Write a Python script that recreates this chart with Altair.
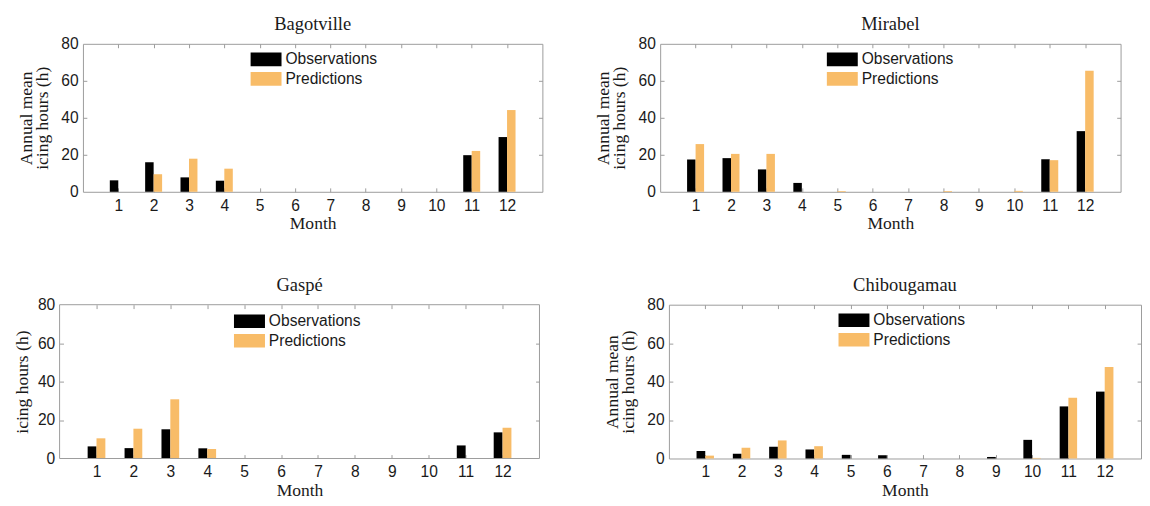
import altair as alt
import pandas as pd

months = list(range(1, 13))
series_names = ["Observations", "Predictions"]
series_colors = ["#000000", "#F8BC68"]
y_ticks = [0, 20, 40, 60, 80]
x_domain = [0, 13]
y_domain = [0, 80]

stations = ["Bagotville", "Mirabel", "Gaspé", "Chibougamau"]

obs_bagotville = [6.2, 16.0, 7.8, 6.0, 0, 0, 0, 0, 0, 0, 19.8, 29.6]
pred_bagotville = [0, 9.5, 17.9, 12.5, 0, 0, 0, 0, 0, 0, 22.1, 44.2]

obs_mirabel = [17.4, 18.2, 12.1, 4.8, 0, 0, 0, 0, 0, 0, 17.6, 32.8]
pred_mirabel = [25.8, 20.5, 20.5, 0, 0.4, 0, 0, 0.4, 0, 0.5, 17.1, 65.5]

obs_gaspe = [6.3, 5.4, 15.2, 5.3, 0, 0, 0, 0, 0, 0, 6.8, 13.6]
pred_gaspe = [10.5, 15.5, 30.8, 5.0, 0, 0, 0, 0, 0, 0, 0, 16.0]

obs_chibougamau = [3.9, 2.5, 6.1, 4.7, 1.9, 1.7, 0, 0, 0.8, 9.7, 27.1, 34.8]
pred_chibougamau = [1.5, 5.6, 9.4, 6.4, 0, 0, 0, 0, 0, 0.3, 31.6, 47.6]

y_title_full = ["Annual mean", "icing hours (h)"]
y_title_short = "icing hours (h)"

SANS = "Liberation Sans"
SERIF = "Liberation Serif"
BOX = "#9a9a9a"
TXT = "#1a1a1a"


def panel(name, obs, pred, ytitle, w, h, lx, ly, ytpad, shift=0):
    df = pd.DataFrame({
        "month": months * 2,
        "series": [series_names[0]] * 12 + [series_names[1]] * 12,
        "value": obs + pred,
    })
    base = alt.Chart(df).transform_calculate(
        x0="datum.series == 'Observations' ? datum.month - 0.24 : datum.month",
        x1="datum.series == 'Observations' ? datum.month : datum.month + 0.24",
    )
    if shift:
        xs = alt.Scale(domain=x_domain, nice=False, zero=False, range=[-shift, w])
    else:
        xs = alt.Scale(domain=x_domain, nice=False, zero=False)
    ys = alt.Scale(domain=y_domain, nice=False)

    bars = base.mark_bar().encode(
        x=alt.X("x0:Q", scale=xs,
                axis=alt.Axis(orient="bottom", values=months, title="Month",
                              ticks=False, domain=False, grid=False,
                              labelPadding=6, titlePadding=2)),
        x2="x1:Q",
        y=alt.Y("value:Q", scale=ys,
                axis=alt.Axis(orient="left", values=y_ticks, title=ytitle,
                              ticks=False, domain=False, grid=False, offset=shift,
                              labelPadding=5, titlePadding=ytpad)),
        y2=alt.datum(0),
        color=alt.Color("series:N",
                        scale=alt.Scale(domain=series_names, range=series_colors),
                        legend=alt.Legend(
                            title=None, orient="none", legendX=lx, legendY=ly,
                            symbolType="M-1,-0.4375L1,-0.4375L1,0.4375L-1,0.4375Z",
                            symbolSize=1024, symbolStrokeWidth=0, symbolOpacity=1,
                            labelFont=SANS, labelFontSize=16, labelColor=TXT,
                            labelOffset=4, padding=0, clipHeight=20, rowPadding=0)),
    )
    tick_axis = dict(labels=False, title=None, domain=False, grid=False,
                     ticks=True, tickSize=4, tickColor=BOX)
    top_right = base.mark_bar(opacity=0).encode(
        x=alt.X("x0:Q", scale=xs, axis=alt.Axis(orient="top", values=months, offset=-4, **tick_axis)),
        x2="x1:Q",
        y=alt.Y("value:Q", scale=ys, axis=alt.Axis(orient="right", values=[20, 40, 60], offset=-4, **tick_axis)),
        y2=alt.datum(0),
    )
    bottom_left = base.mark_bar(opacity=0).encode(
        x=alt.X("x0:Q", scale=xs, axis=alt.Axis(orient="bottom", values=months, offset=-4, **tick_axis)),
        x2="x1:Q",
        y=alt.Y("value:Q", scale=ys, axis=alt.Axis(orient="left", values=[20, 40, 60], offset=shift - 4, **tick_axis)),
        y2=alt.datum(0),
    )
    layers = [bars, top_right, bottom_left]
    props = dict(width=w, height=h)
    title_kw = dict(font=SERIF, fontSize=19, fontWeight="normal", color=TXT, offset=2)
    if shift:
        box_df = pd.DataFrame({"bx0": [x_domain[0]], "bx1": [x_domain[1]],
                               "by0": [y_domain[0]], "by1": [y_domain[1]]})
        box = alt.Chart(box_df).mark_rect(fill="transparent", stroke=BOX, strokeWidth=1).encode(
            x=alt.X("bx0:Q", scale=xs, axis=None), x2="bx1:Q",
            y=alt.Y("by0:Q", scale=ys, axis=None), y2="by1:Q",
        )
        layers.append(box)
        props["view"] = alt.ViewBackground(stroke="transparent")
        title_kw["dx"] = -shift / 2
    return alt.layer(*layers).resolve_axis(
        x="independent", y="independent"
    ).properties(title=alt.TitleParams(name, **title_kw), **props)


p1 = panel(stations[0], obs_bagotville, pred_bagotville, y_title_full, 472, 152, 172, 6, 10)
p2 = panel(stations[1], obs_mirabel, pred_mirabel, y_title_full, 473, 152, 171, 6, 10)
p3 = panel(stations[2], obs_gaspe, pred_gaspe, y_title_short, 469, 158, 155, 7, 6, shift=24)
p4 = panel(stations[3], obs_chibougamau, pred_chibougamau, y_title_full, 485, 158, 174, 6, 10)

row1 = alt.hconcat(p1, p2, spacing=52).resolve_scale(color="independent")
row2 = alt.hconcat(p3, p4, spacing=40).resolve_scale(color="independent")

chart = alt.vconcat(row1, row2, spacing=43).resolve_scale(color="independent").properties(
    padding={"left": 5, "top": 0, "right": 0, "bottom": 0},
    background="white",
).configure_view(
    stroke=BOX, strokeWidth=1
).configure_axis(
    labelFont=SANS, labelFontSize=16, labelColor=TXT,
    titleFont=SERIF, titleFontSize=18, titleFontWeight="normal", titleColor=TXT,
    titleLineHeight=16,
)

chart.save("out.html", embed_options={"renderer": "svg", "actions": False})
